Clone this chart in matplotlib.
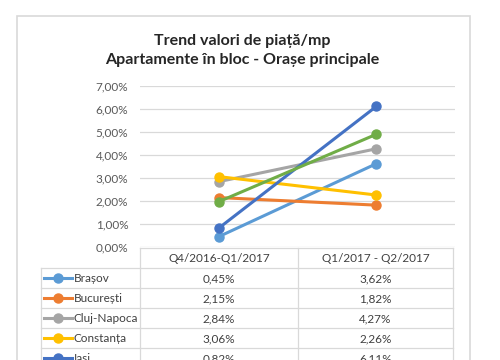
import matplotlib
matplotlib.use("Agg")
import matplotlib.pyplot as plt
from matplotlib.lines import Line2D
from matplotlib.patches import Rectangle

plt.rcParams['font.family'] = ['Lato', 'DejaVu Sans']

categories = ["Q4/2016-Q1/2017", "Q1/2017 - Q2/2017"]
cities = ["Brașov", "București", "Cluj-Napoca", "Constanța", "Iași", "Timișoara"]
brasov = [0.45, 3.62]
bucuresti = [2.15, 1.82]
cluj = [2.84, 4.27]
constanta = [3.06, 2.26]
iasi = [0.82, 6.11]
timisoara = [1.97, 4.90]
series = [brasov, bucuresti, cluj, constanta, iasi, timisoara]
colors = ["#5B9BD5", "#ED7D31", "#A5A5A5", "#FFC000", "#4472C4", "#70AD47"]
yticks = [0, 1, 2, 3, 4, 5, 6, 7]

W, H = 500, 360
fig = plt.figure(figsize=(5, 3.6), dpi=100)

def fx(px):
    return px / W

def fy(py):
    return 1 - py / H

# outer chart frame
fig.patches.append(Rectangle((fx(17), fy(400)), fx(470) - fx(17), fy(16) - fy(400),
                             transform=fig.transFigure, fill=False,
                             edgecolor="#D9D9D9", linewidth=1.2))

# title
fig.text(fx(242), fy(41), "Trend valori de piață/mp", ha="center", va="center",
         fontsize=11.5, fontweight="bold", color="#262626")
fig.text(fx(242), fy(60), "Apartamente în bloc - Orașe principale", ha="center", va="center",
         fontsize=11.5, fontweight="bold", color="#262626")

# plot area
left, right, top, bottom = 140, 455, 86, 247
ax = fig.add_axes([fx(left), fy(bottom), fx(right) - fx(left), fy(top) - fy(bottom)])
ax.set_xlim(-0.5, 1.5)
ax.set_ylim(0, 7)
ax.set_yticks(yticks)
ax.set_yticklabels([f"{v:.2f}%".replace(".", ",") for v in yticks], fontsize=8.5, color="#595959")
ax.set_xticks([])
ax.tick_params(axis="y", length=0, pad=8.5)
for s in ax.spines.values():
    s.set_visible(False)
ax.grid(axis="y", color="#D9D9D9", linewidth=0.9)
ax.set_axisbelow(True)
ax.patch.set_alpha(0)

x = list(range(len(categories)))
for vals, c in zip(series, colors):
    ax.plot(x, vals, color=c, linewidth=2.2, marker="o", markersize=6.5, clip_on=False)

# data table
line_c = "#D9D9D9"
tl, c1, c2, tr = 41, 140, 298, 453
header_top, header_bot, row_h = 248, 268, 20
n = len(cities)
table_bot = header_bot + row_h * n

def hline(y, x0, x1):
    fig.add_artist(Line2D([fx(x0), fx(x1)], [fy(y), fy(y)], transform=fig.transFigure,
                          color=line_c, linewidth=0.9))

def vline(xp, y0, y1):
    fig.add_artist(Line2D([fx(xp), fx(xp)], [fy(y0), fy(y1)], transform=fig.transFigure,
                          color=line_c, linewidth=0.9))

hline(header_top, c1, tr)
for i in range(n + 1):
    hline(header_bot + i * row_h, tl, tr)
vline(tl, header_bot, table_bot)
for xp in (c1, c2, tr):
    vline(xp, header_top, table_bot)

col_centers = [(c1 + c2) / 2, (c2 + tr) / 2]
for j, cat in enumerate(categories):
    fig.text(fx(col_centers[j]), fy((header_top + header_bot) / 2 + 1), cat,
             ha="center", va="center", fontsize=8.5, color="#404040")

for i, (city, vals, c) in enumerate(zip(cities, series, colors)):
    yc = header_bot + i * row_h + row_h / 2 + 1
    fig.add_artist(Line2D([fx(44), fx(72)], [fy(yc - 1), fy(yc - 1)], transform=fig.transFigure,
                          color=c, linewidth=2.2))
    fig.add_artist(Line2D([fx(57.5)], [fy(yc - 1)], transform=fig.transFigure,
                          color=c, marker="o", markersize=6.5, linestyle="none"))
    fig.text(fx(74), fy(yc), city, ha="left", va="center", fontsize=8.5, color="#404040")
    for j, v in enumerate(vals):
        fig.text(fx(col_centers[j]), fy(yc), f"{v:.2f}%".replace(".", ","),
                 ha="center", va="center", fontsize=8.5, color="#404040")

fig.savefig("out.png", dpi=100, facecolor="white")
